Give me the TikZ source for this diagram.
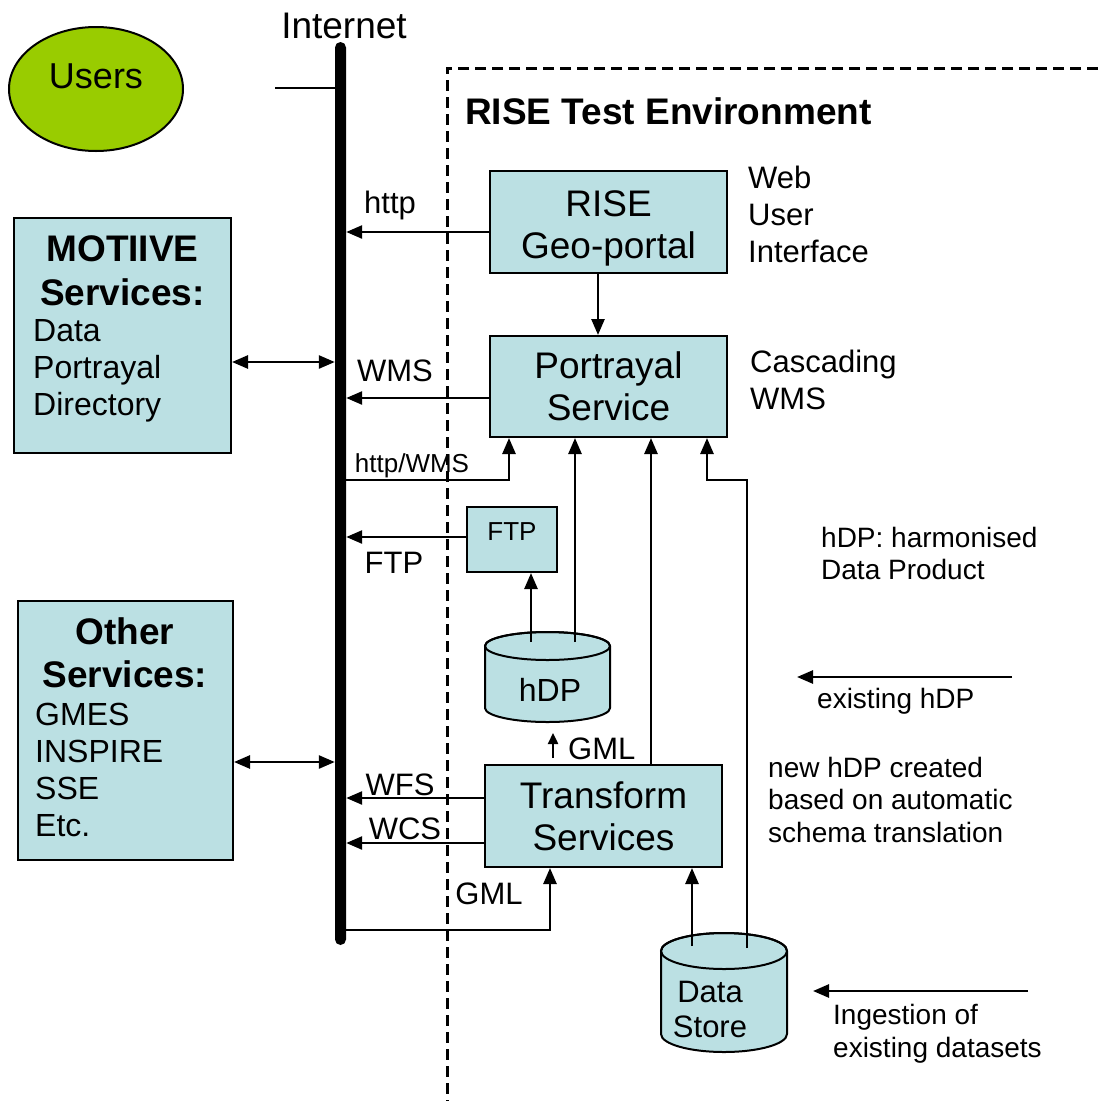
\documentclass[tikz,border=0pt]{standalone}
\usepackage{fontspec}
\setmainfont{Liberation Sans}
\usetikzlibrary{arrows.meta,calc,shapes.geometric}
\definecolor{BoxClr}{RGB}{187,224,227}
\definecolor{UserClr}{RGB}{153,204,0}
\newcommand{\fsz}[2]{\fontsize{#1}{#2}\selectfont}

\begin{document}
\begin{tikzpicture}[x=1pt,y=-1pt,
  svc/.style={draw=black,line width=2pt,fill=BoxClr,inner sep=0pt,align=center,font=\fsz{37}{42}},
  arr/.style={line width=2.6pt,-{Triangle[length=16pt,width=13pt]}},
  arrsmall/.style={line width=2.4pt,-{Triangle[length=11pt,width=10pt]}},
  dbl/.style={line width=2.6pt,{Triangle[length=16pt,width=13pt]}-{Triangle[length=16pt,width=13pt]}},
  lbl/.style={inner sep=0pt,anchor=base,font=\fsz{31}{37}},
  note/.style={inner sep=0pt,anchor=north west,align=left,font=\fsz{28}{32.5}},
  envline/.style={line width=3pt,dash pattern=on 11pt off 6pt}]

\useasboundingbox (0,0) rectangle (1098,1101);

% test environment border
\draw[envline] (1098,68) -| (447,1101);
\node[lbl,anchor=base west,font=\bfseries\fsz{37}{41}] (env) at (465,124) {RISE Test Environment};

% internet backbone and users
\node[fill=black,rounded corners=5.5pt,minimum width=11pt,minimum height=903pt,inner sep=0pt] (net) at (340.5,493.5) {};
\node[lbl,font=\fsz{37}{41}] (inet) at (344,38) {Internet};
\node[draw,ellipse,fill=UserClr,line width=2pt,minimum width=174pt,minimum height=124pt,inner sep=0pt] (users) at (96,89) {};
\node[lbl,font=\fsz{36}{40}] (userstxt) at (96,88) {Users};
\coordinate (ul) at (275,88);
\draw[line width=1.6pt] (ul) -- (net.west |- ul);

% service boxes
\node[svc,minimum width=237pt,minimum height=102pt,text height=80pt] (geo) at (608.5,222) {RISE\\Geo-portal};
\node[svc,minimum width=237pt,minimum height=101pt] (portrayal) at (608.5,386.5) {Portrayal\\Service};
\node[svc,minimum width=90pt,minimum height=65pt,font=\fsz{26}{30},text depth=15pt] (ftp) at (512,539.5) {FTP};
\node[svc,minimum width=237pt,minimum height=102pt] (transform) at (603.5,816) {Transform\\Services};

\node[svc,minimum width=217pt,minimum height=235pt] (motiive) at (122.5,335.5) {};
\node[inner sep=0pt,anchor=north,align=center,font=\bfseries\fsz{37}{44}] (motiivetitle) at (122.5,235) {MOTIIVE\\Services:};
\node[note,font=\fsz{32}{37}] (motiivelist) at (33,319.5) {Data\\Portrayal\\Directory};

\node[svc,minimum width=215pt,minimum height=259pt] (other) at (125.5,730.5) {};
\node[inner sep=0pt,anchor=north,align=center,font=\bfseries\fsz{37}{43}] (othertitle) at (125,617) {Other\\Services:};
\node[note,font=\fsz{32}{37}] (otherlist) at (35,702.5) {GMES\\INSPIRE\\SSE\\Etc.};

% data stores
\filldraw[line width=2pt,fill=BoxClr] (485,646) -- (485,708) arc[start angle=180,end angle=0,x radius=62.5,y radius=14]
  -- (610,646) arc[start angle=0,end angle=-180,x radius=62.5,y radius=14] -- cycle;
\draw[line width=2pt] (547.5,646) ellipse[x radius=62.5,y radius=14];
\node[lbl,font=\fsz{32}{36}] (hdp) at (550,701) {hDP};

\filldraw[line width=2pt,fill=BoxClr] (661,951) -- (661,1034) arc[start angle=180,end angle=0,x radius=63,y radius=18]
  -- (787,951) arc[start angle=0,end angle=-180,x radius=63,y radius=18] -- cycle;
\draw[line width=2pt] (724,951) ellipse[x radius=63,y radius=18];
\node[inner sep=0pt,anchor=north,align=center,font=\fsz{31}{35}] (datastore) at (710,981) {Data\\Store};

\coordinate (hdp-a) at (531,642);
\coordinate (hdp-b) at (575,642);
\coordinate (ds-a) at (692,946);
\coordinate (ds-b) at (747,948);

% connectors
\draw[arr] ([xshift=-10.5pt]geo.south) -- ([xshift=-10.5pt]portrayal.north);
\coordinate (http) at ([yshift=-10pt]geo.west);
\draw[arr] (http) -- (http -| net.east);
\coordinate (wms) at ([yshift=-11.5pt]portrayal.west);
\draw[arr] (wms) -- (wms -| net.east);
\coordinate (hw) at (509,480);
\draw[arr] (hw -| net.east) -- (hw) -- (hw |- portrayal.south);
\coordinate (ftpout) at ([yshift=2.5pt]ftp.west);
\draw[arr] (ftpout) -- (ftpout -| net.east);
\draw[arr] (hdp-a) -- (hdp-a |- ftp.south);
\draw[arr] (hdp-b) -- (hdp-b |- portrayal.south);
\draw[arr] ([xshift=47.5pt]transform.north) -- ([xshift=47.5pt]transform.north |- portrayal.south);
\coordinate (pin) at (707,480);
\draw[arr] (ds-b) |- (pin) -- (pin |- portrayal.south);
\draw[arr] (ds-a) -- (ds-a |- transform.south);
\coordinate (wfs) at ([yshift=18pt]transform.west);
\coordinate (wcs) at ([yshift=-27pt]transform.west);
\draw[arr] (wfs) -- (wfs -| net.east);
\draw[arr] (wcs) -- (wcs -| net.east);
\coordinate (gmlin) at (550,930);
\draw[arr] (gmlin -| net.east) -- (gmlin) -- (gmlin |- transform.south);
\coordinate (gml-a) at (553,758);
\coordinate (gml-b) at (553,733);
\draw[arrsmall] (gml-a) -- (gml-b);
\draw[dbl] ([yshift=-26.5pt]motiive.east) -- ([yshift=-26.5pt]motiive.east -| net.west);
\draw[dbl] ([yshift=-31.5pt]other.east) -- ([yshift=-31.5pt]other.east -| net.west);

\coordinate (exA) at (1012,677);
\coordinate (exB) at (797,677);
\draw[arr] (exA) -- (exB);
\coordinate (inA) at (1028,991);
\coordinate (inB) at (813,991);
\draw[arr] (inA) -- (inB);

% labels
\node[lbl] (httplbl) at (390,213) {http};
\node[lbl] (wmslbl) at (395,381) {WMS};
\node[lbl,font=\fsz{26}{30}] (hwlbl) at (412,472) {http/WMS};
\node[lbl] (ftplbl) at (394,573) {FTP};
\node[lbl] (wfslbl) at (400,795) {WFS};
\node[lbl] (wcslbl) at (405,839) {WCS};
\node[lbl] (gmllbl) at (489,904) {GML};
\node[lbl,anchor=base west] (gmlup) at (568,759) {GML};

\node[note,font=\fsz{31}{37}] (webui) at (748,166) {Web\\User\\Interface};
\node[note,font=\fsz{31}{37}] (cwms) at (750,350) {Cascading\\WMS};
\node[note] (hdpnote) at (821,527) {hDP: harmonised\\Data Product};
\node[note] (exnote) at (817,688) {existing hDP};
\node[note] (newnote) at (768,757) {new hDP created\\based on automatic\\schema translation};
\node[note] (innote) at (833,1004) {Ingestion of\\existing datasets};

\end{tikzpicture}
\end{document}
